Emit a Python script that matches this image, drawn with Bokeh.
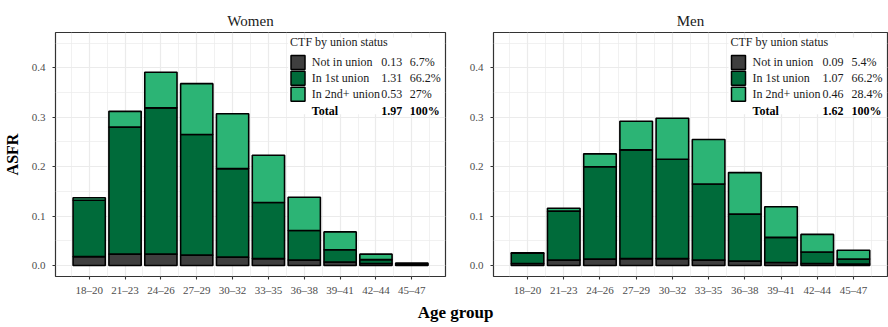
from bokeh.plotting import figure
from bokeh.models import Range1d, FixedTicker, ColumnDataSource, PrintfTickFormatter
from bokeh.layouts import column, row
from bokeh.embed import file_html
from bokeh.resources import INLINE
from bokeh.core.properties import value

# ---------------- data ----------------
age_groups = ["18–20", "21–23", "24–26", "27–29", "30–32",
              "33–35", "36–38", "39–41", "42–44", "45–47"]

women_not    = [0.018, 0.023, 0.023, 0.021, 0.017, 0.014, 0.011, 0.007, 0.004, 0.001]
women_first  = [0.114, 0.257, 0.296, 0.244, 0.179, 0.1135, 0.060, 0.025, 0.008, 0.002]
women_second = [0.005, 0.032, 0.072, 0.103, 0.111, 0.0955, 0.067, 0.036, 0.011, 0.002]

men_not    = [0.004, 0.011, 0.013, 0.014, 0.014, 0.011, 0.009, 0.006, 0.004, 0.003]
men_first  = [0.021, 0.099, 0.187, 0.220, 0.201, 0.154, 0.095, 0.051, 0.0235, 0.010]
men_second = [0.001, 0.006, 0.026, 0.058, 0.083, 0.090, 0.084, 0.062, 0.0355, 0.018]

legend_title = "CTF by union status"
legend_labels = ["Not in union", "In 1st union", "In 2nd+ union"]
women_ctf = ["0.13", "1.31", "0.53"]
women_pct = ["6.7%", "66.2%", "27%"]
women_total = ["1.97", "100%"]
men_ctf = ["0.09", "1.07", "0.46"]
men_pct = ["5.4%", "66.2%", "28.4%"]
men_total = ["1.62", "100%"]

y_ticks = [0.0, 0.1, 0.2, 0.3, 0.4]

# ---------------- style ----------------
colors = ["#3f3f3f", "#006b3a", "#2cb475"]
FONT = "Liberation Serif"
FRAME_W, FRAME_H = 394, 245
X0, X1 = 0.06, 10.94
Y0, Y1 = -0.0222, 0.4715
TOP, BOTTOM = 32, 21


def dx(px):
    return X0 + px * (X1 - X0) / FRAME_W


def dy(px):
    return Y1 - px * (Y1 - Y0) / FRAME_H


def make_panel(title, nots, firsts, seconds, ctf, pct, total, left_b, right_b, ylabel):
    p = figure(width=left_b + FRAME_W + right_b, height=TOP + FRAME_H + BOTTOM,
               x_range=Range1d(X0, X1), y_range=Range1d(Y0, Y1),
               output_backend="svg", toolbar_location=None,
               min_border_left=left_b, min_border_right=right_b,
               min_border_top=TOP, min_border_bottom=BOTTOM)
    p.title.text = title
    p.title.align = "center"
    p.title.text_font = FONT
    p.title.text_font_size = "15px"
    p.title.text_font_style = "normal"
    p.title.text_color = "#1a1a1a"
    p.title.standoff = 8

    p.outline_line_color = "#333333"
    p.outline_line_width = 1.2

    xt = FixedTicker(ticks=list(range(1, len(age_groups) + 1)),
                     minor_ticks=[i + 0.5 for i in range(0, len(age_groups) + 1)])
    yt = FixedTicker(ticks=y_ticks, minor_ticks=[t + 0.05 for t in y_ticks])
    p.xaxis.ticker = xt
    p.yaxis.ticker = yt
    p.xgrid.ticker = xt
    p.ygrid.ticker = yt
    p.xaxis.major_label_overrides = {i + 1: lab for i, lab in enumerate(age_groups)}
    p.yaxis.formatter = PrintfTickFormatter(format="%.1f")

    for ax in (p.xaxis[0], p.yaxis[0]):
        ax.axis_line_color = None
        ax.major_tick_line_color = "#333333"
        ax.major_tick_line_width = 1.1
        ax.major_tick_out = 3
        ax.major_tick_in = 0
        ax.minor_tick_line_color = None
        ax.major_label_text_font = FONT
        ax.major_label_text_font_size = "11px"
        ax.major_label_text_color = "#4d4d4d"
    p.xaxis.major_label_standoff = 3
    p.yaxis.major_label_standoff = 6

    if ylabel:
        p.yaxis.axis_label = ylabel
        p.yaxis.axis_label_text_font = FONT
        p.yaxis.axis_label_text_font_size = "16px"
        p.yaxis.axis_label_text_font_style = "bold"
        p.yaxis.axis_label_text_color = "black"
        p.yaxis.axis_label_standoff = 8

    for g in (p.xgrid, p.ygrid):
        g.grid_line_color = "#ebebeb"
        g.grid_line_width = 1.2
        g.minor_grid_line_color = "#ebebeb"
        g.minor_grid_line_width = 0.7

    src = ColumnDataSource(dict(x=list(range(1, len(age_groups) + 1)),
                                n=nots, f=firsts, s=seconds))
    p.vbar_stack(["n", "f", "s"], x="x", width=0.9, color=colors,
                 line_color="black", line_width=1.6, source=src)

    # legend (drawn in-panel, positions from pixel offsets)
    p.quad(left=[dx(235)], right=[dx(392)], top=[dy(5)], bottom=[dy(82)],
           fill_color="white", line_color=None)
    p.text(x=[dx(237)], y=[dy(10)], text=[legend_title], text_font=value(FONT),
           text_font_size="12px", text_baseline="middle", text_color="#1a1a1a")
    rows_px = [30, 46, 62]
    p.rect(x=[dx(245)] * 3, y=[dy(r) for r in rows_px], width=14, height=14,
           width_units="screen", height_units="screen",
           fill_color=colors, line_color="black", line_width=1.5)
    p.text(x=[dx(259)] * 3, y=[dy(r) for r in rows_px], text=legend_labels,
           text_font=value(FONT), text_font_size="12px", text_baseline="middle",
           text_color="#1a1a1a")
    p.text(x=[dx(329)] * 3, y=[dy(r) for r in rows_px], text=ctf,
           text_font=value(FONT), text_font_size="12px", text_baseline="middle",
           text_color="#1a1a1a")
    p.text(x=[dx(358)] * 3, y=[dy(r) for r in rows_px], text=pct,
           text_font=value(FONT), text_font_size="12px", text_baseline="middle",
           text_color="#1a1a1a")
    p.text(x=[dx(259), dx(329), dx(358)], y=[dy(79)] * 3,
           text=["Total", total[0], total[1]],
           text_font=value(FONT), text_font_size="12px", text_font_style="bold",
           text_baseline="middle", text_color="black")
    return p


p1 = make_panel("Women", women_not, women_first, women_second,
                women_ctf, women_pct, women_total, 51, 2, "ASFR")
p2 = make_panel("Men", men_not, men_first, men_second,
                men_ctf, men_pct, men_total, 46, 1, None)

p3 = figure(width=888, height=29, x_range=Range1d(0, 888), y_range=Range1d(0, 29),
            output_backend="svg", toolbar_location=None,
            x_axis_type=None, y_axis_type=None, min_border=0)
p3.outline_line_color = None
p3.xgrid.visible = False
p3.ygrid.visible = False
p3.text(x=[455], y=[15], text=["Age group"], text_font=value(FONT),
        text_font_size="17px", text_font_style="bold", text_align="center",
        text_baseline="middle", text_color="black")

layout = column(row(p1, p2), p3)
open("out.html", "w").write(file_html(layout, INLINE))
